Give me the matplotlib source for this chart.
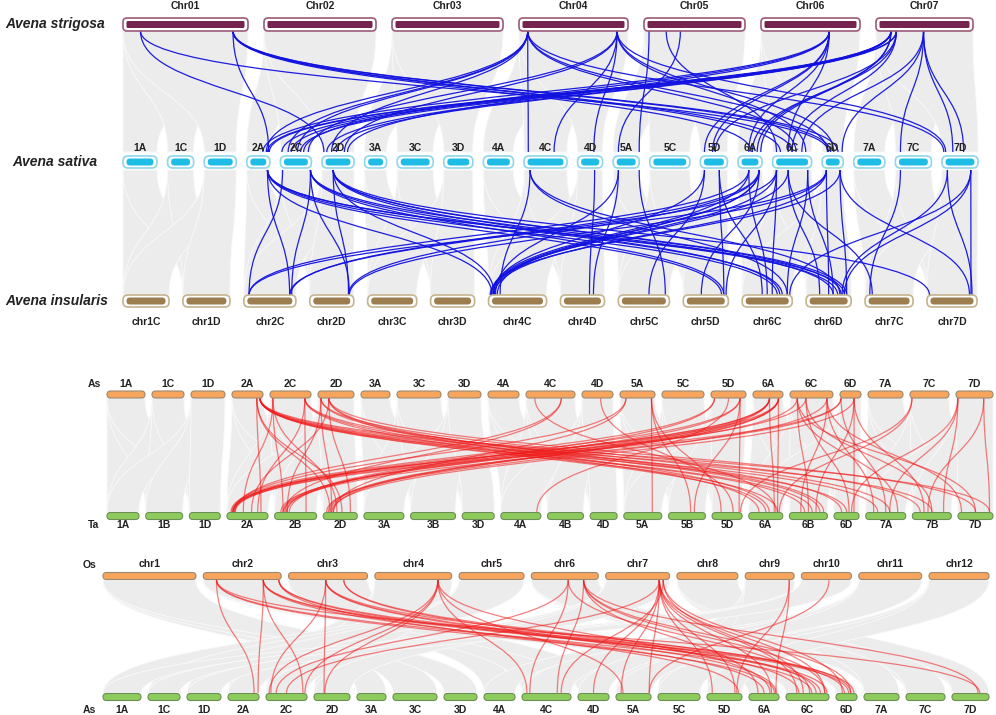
import matplotlib
matplotlib.use('Agg')
import matplotlib.pyplot as plt
from matplotlib.patches import FancyBboxPatch, PathPatch
from matplotlib.path import Path

plt.rcParams['font.family'] = ['Liberation Sans', 'DejaVu Sans']

# ---- chromosomes (names, relative lengths) ----
stri_names = ['Chr01', 'Chr02', 'Chr03', 'Chr04', 'Chr05', 'Chr06', 'Chr07']
stri_len = [125, 112, 111, 109, 101, 99, 97]

sat_names = ['1A', '1C', '1D', '2A', '2C', '2D', '3A', '3C', '3D', '4A', '4C',
             '4D', '5A', '5C', '5D', '6A', '6C', '6D', '7A', '7C', '7D']
sat_len = [34, 26, 32, 23, 31, 32, 22, 36, 29, 30, 43, 25, 26, 40, 27, 24, 39, 21, 31, 36, 36]

ins_names = ['chr1C', 'chr1D', 'chr2C', 'chr2D', 'chr3C', 'chr3D', 'chr4C',
             'chr4D', 'chr5C', 'chr5D', 'chr6C', 'chr6D', 'chr7C', 'chr7D']
ins_len = [46, 47, 52, 44, 49, 44, 58, 44, 51, 45, 50, 45, 48, 50]

as_names = sat_names
as_len = [38, 32, 34, 31, 41, 36, 29, 44, 33, 31, 49, 31, 35, 42, 35, 30, 43, 21, 35, 39, 37]

ta_names = ['1A', '1B', '1D', '2A', '2B', '2D', '3A', '3B', '3D', '4A', '4B',
            '4D', '5A', '5B', '5D', '6A', '6B', '6D', '7A', '7B', '7D']
ta_len = [32, 37, 31, 41, 42, 34, 40, 45, 32, 40, 36, 27, 38, 37, 30, 34, 38, 25, 40, 39, 35]

os_names = ['chr1', 'chr2', 'chr3', 'chr4', 'chr5', 'chr6', 'chr7', 'chr8',
            'chr9', 'chr10', 'chr11', 'chr12']
os_len = [93, 78, 79, 77, 65, 67, 64, 61, 49, 50, 63, 60]
# rice chromosome -> oat/wheat homoeologous group (for the grey background blocks)
os_group = [3, 6, 4, 2, 1, 7, 2, 7, 5, 1, 4, 5]

# ---- collinear gene pairs highlighted (source chr, rel. pos, target chr, rel. pos) ----
stri_sat_links = [
    ('Chr01', 0.14, '2D', 0.06), ('Chr01', 0.14, '6D', 0.30),
    ('Chr01', 0.88, '2A', 0.95), ('Chr01', 0.88, '6A', 0.55), ('Chr01', 0.88, '6C', 0.20),
    ('Chr01', 0.88, '6C', 0.50), ('Chr01', 0.88, '6D', 0.40), ('Chr01', 0.88, '6D', 0.75),
    ('Chr04', 0.08, '2A', 0.85), ('Chr04', 0.08, '2C', 0.25), ('Chr04', 0.08, '2C', 0.55),
    ('Chr04', 0.08, '2D', 0.30), ('Chr04', 0.08, '4C', 0.10), ('Chr04', 0.08, '6C', 0.60),
    ('Chr04', 0.08, '6D', 0.25), ('Chr04', 0.08, '7D', 0.05),
    ('Chr04', 0.90, '4C', 0.70), ('Chr04', 0.90, '4D', 0.65), ('Chr04', 0.90, '2C', 0.90),
    ('Chr04', 0.90, '2D', 0.70), ('Chr04', 0.90, '6C', 0.85), ('Chr04', 0.90, '6D', 0.55),
    ('Chr04', 0.90, '7D', 0.10),
    ('Chr05', 0.05, '5A', 1.00), ('Chr05', 0.22, '6C', 0.10), ('Chr05', 0.36, '5A', 0.20),
    ('Chr06', 0.69, '5D', 0.15), ('Chr06', 0.69, '5D', 0.45), ('Chr06', 0.69, '6A', 0.45),
    ('Chr06', 0.69, '6C', 0.40), ('Chr06', 0.69, '2A', 0.70), ('Chr06', 0.69, '2C', 0.75),
    ('Chr06', 0.69, '2D', 0.80),
    ('Chr07', 0.155, '2A', 0.90), ('Chr07', 0.155, '2C', 0.05), ('Chr07', 0.155, '2C', 0.35),
    ('Chr07', 0.155, '2D', 0.15), ('Chr07', 0.155, '2D', 0.45), ('Chr07', 0.155, '6A', 0.80),
    ('Chr07', 0.155, '6A', 0.95),
    ('Chr07', 0.21, '2A', 0.98), ('Chr07', 0.21, '2C', 0.65), ('Chr07', 0.21, '5D', 0.55),
    ('Chr07', 0.21, '6A', 0.60), ('Chr07', 0.21, '6C', 0.50),
    ('Chr07', 0.49, '6D', 0.95), ('Chr07', 0.49, '7C', 0.14), ('Chr07', 0.49, '7D', 0.30),
    ('Chr07', 0.49, '6C', 0.75), ('Chr07', 0.49, '7D', 0.60),
]

sat_ins_links = [
    ('2A', 0.90, 'chr2C', 0.88), ('2A', 0.90, 'chr4C', 0.06), ('2A', 0.90, 'chr5D', 0.85),
    ('2A', 0.90, 'chr6C', 0.70), ('2A', 0.90, 'chr6D', 0.70), ('2A', 0.90, 'chr6D', 0.85),
    ('2C', 0.07, 'chr2C', 0.10),
    ('2C', 0.97, 'chr2C', 0.92), ('2C', 0.97, 'chr2D', 0.90), ('2C', 0.97, 'chr6C', 0.80),
    ('2C', 0.97, 'chr6D', 0.60), ('2C', 0.97, 'chr5D', 0.90),
    ('2D', 0.35, 'chr2D', 0.88), ('2D', 0.35, 'chr4C', 0.10), ('2D', 0.35, 'chr6C', 0.75),
    ('2D', 0.35, 'chr6D', 0.78), ('2D', 0.35, 'chr6D', 0.90), ('2D', 0.35, 'chr7D', 0.05),
    ('4C', 0.14, 'chr4C', 0.20), ('4C', 0.14, 'chr6C', 0.90), ('4C', 0.14, 'chr6D', 0.75),
    ('4D', 0.68, 'chr4D', 0.66),
    ('5A', 0.20, 'chr4C', 0.12), ('5A', 0.20, 'chr4D', 0.75), ('5A', 1.00, 'chr5C', 0.92),
    ('5D', 0.15, 'chr4C', 0.08), ('5D', 0.15, 'chr5C', 0.60),
    ('5D', 0.70, 'chr5D', 0.90), ('5D', 0.70, 'chr6C', 0.40),
    ('6A', 0.45, 'chr4C', 0.05), ('6A', 0.45, 'chr2C', 0.10), ('6A', 0.45, 'chr6C', 0.50),
    ('6A', 0.88, 'chr4C', 0.08), ('6A', 0.88, 'chr2C', 0.90), ('6A', 0.88, 'chr2D', 0.88),
    ('6A', 0.88, 'chr4C', 0.15), ('6A', 0.88, 'chr5D', 0.40),
    ('6C', 0.10, 'chr6C', 0.60), ('6C', 0.10, 'chr5D', 0.95), ('6C', 0.10, 'chr4C', 0.10),
    ('6C', 0.10, 'chr2C', 0.88),
    ('6C', 0.40, 'chr6D', 0.30), ('6C', 0.40, 'chr7C', 0.15), ('6C', 0.40, 'chr4C', 0.05),
    ('6C', 0.90, 'chr6D', 0.60), ('6C', 0.90, 'chr6C', 0.90),
    ('6D', 0.20, 'chr6D', 0.50), ('6D', 0.20, 'chr4C', 0.10), ('6D', 0.20, 'chr2D', 0.90),
    ('6D', 0.20, 'chr2C', 0.10),
    ('6D', 0.85, 'chr6D', 0.90), ('6D', 0.85, 'chr7D', 0.85), ('6D', 0.85, 'chr4C', 0.03),
    ('7C', 0.14, 'chr7C', 0.10),
    ('7D', 0.15, 'chr7D', 0.90), ('7D', 0.15, 'chr6D', 0.80),
    ('7D', 0.80, 'chr7D', 0.88), ('7D', 0.80, 'chr6C', 0.95), ('7D', 0.80, 'chr6D', 0.85),
]

as_ta_links = [
    ('2A', 0.80, '2A', 0.83), ('2A', 0.80, '2D', 0.20), ('2A', 0.80, '2D', 0.55),
    ('2A', 0.90, '6A', 0.50), ('2A', 0.90, '6B', 0.40), ('2A', 0.90, '6B', 0.60),
    ('2A', 0.90, '6D', 0.50), ('2A', 0.90, '7A', 0.30), ('2A', 0.90, '7B', 0.50),
    ('2A', 0.90, '7D', 0.90), ('2A', 0.90, '6A', 0.85),
    ('2C', 0.07, '2B', 0.20), ('2C', 0.07, '2A', 0.40), ('2C', 0.07, '2D', 0.40),
    ('2C', 0.85, '2B', 0.75), ('2C', 0.85, '2A', 0.75), ('2C', 0.85, '6A', 0.30),
    ('2C', 0.85, '6B', 0.80), ('2C', 0.85, '7A', 0.60),
    ('2D', 0.08, '2B', 0.30), ('2D', 0.08, '2D', 0.25), ('2D', 0.08, '6D', 0.30),
    ('2D', 0.08, '7B', 0.20),
    ('2D', 0.30, '2A', 0.60), ('2D', 0.30, '2D', 0.80), ('2D', 0.30, '6A', 0.60),
    ('2D', 0.30, '7D', 0.50), ('2D', 0.30, '6B', 0.90),
    ('4C', 0.18, '6A', 0.80), ('4C', 0.72, '2A', 0.20), ('4C', 0.72, '2B', 0.25),
    ('4D', 0.60, '5D', 0.70),
    ('5A', 0.17, '2A', 0.15), ('5A', 0.17, '2D', 0.30),
    ('5A', 0.90, '5A', 0.75), ('5A', 0.90, '5B', 0.60), ('5A', 0.90, '5D', 0.30),
    ('5D', 0.10, '2A', 0.10), ('5D', 0.10, '2B', 0.30), ('5D', 0.50, '4A', 0.90),
    ('5D', 0.83, '2A', 0.15), ('5D', 0.83, '2B', 0.35), ('5D', 0.83, '5B', 0.70),
    ('5D', 0.83, '5D', 0.90),
    ('6A', 0.55, '2A', 0.12), ('6A', 0.55, '2A', 0.18), ('6A', 0.55, '2B', 0.20),
    ('6A', 0.55, '2D', 0.15), ('6A', 0.55, '6A', 0.75),
    ('6A', 0.85, '2A', 0.14), ('6A', 0.85, '2B', 0.28), ('6A', 0.85, '2D', 0.20),
    ('6A', 0.85, '2D', 0.30), ('6A', 0.85, '6A', 0.85),
    ('6C', 0.17, '6B', 0.50), ('6C', 0.17, '7A', 0.80), ('6C', 0.17, '7D', 0.50),
    ('6C', 0.17, '2B', 0.15),
    ('6C', 0.37, '6D', 0.60), ('6C', 0.37, '7B', 0.50), ('6C', 0.37, '2A', 0.20),
    ('6C', 0.86, '6B', 0.30), ('6C', 0.86, '7A', 0.20), ('6C', 0.86, '7D', 0.10),
    ('6C', 0.86, '2D', 0.10),
    ('6D', 0.05, '2A', 0.16), ('6D', 0.05, '2B', 0.22), ('6D', 0.05, '7A', 0.50),
    ('6D', 0.67, '6D', 0.80), ('6D', 0.67, '6B', 0.70), ('6D', 0.67, '7B', 0.30),
    ('6D', 0.67, '2D', 0.25),
    ('7C', 0.05, '6A', 0.90), ('7C', 0.05, '5D', 0.95),
    ('7D', 0.05, '7A', 0.60), ('7D', 0.05, '7B', 0.80), ('7D', 0.05, '6D', 0.70),
    ('7D', 0.75, '7D', 0.90), ('7D', 0.75, '7B', 0.40),
]

os_as_links = [
    ('chr2', 0.17, '2A', 0.84), ('chr2', 0.17, '6A', 0.85), ('chr2', 0.17, '6C', 0.60),
    ('chr2', 0.17, '7D', 0.75),
    ('chr2', 0.77, '2A', 0.97), ('chr2', 0.77, '2C', 0.90), ('chr2', 0.77, '6C', 0.95),
    ('chr2', 0.77, '6D', 0.60), ('chr2', 0.77, '6A', 0.50),
    ('chr2', 0.97, '6C', 0.80), ('chr2', 0.97, '6D', 0.85), ('chr2', 0.97, '5D', 0.90),
    ('chr3', 0.47, '2D', 0.28), ('chr3', 0.47, '2C', 0.12), ('chr3', 0.47, '6C', 0.30),
    ('chr3', 0.47, '6D', 0.70), ('chr3', 0.47, '6A', 0.90),
    ('chr3', 0.70, '6C', 0.70), ('chr3', 0.70, '6D', 0.40),
    ('chr4', 0.82, '2C', 0.08), ('chr4', 0.82, '2C', 0.95), ('chr4', 0.82, '2D', 0.30),
    ('chr4', 0.82, '4C', 0.10), ('chr4', 0.82, '5A', 0.20), ('chr4', 0.82, '6A', 0.70),
    ('chr6', 0.55, '4C', 0.16), ('chr6', 0.55, '2C', 0.25), ('chr6', 0.55, '6C', 0.55),
    ('chr6', 0.78, '4C', 0.72), ('chr6', 0.78, '6D', 0.70), ('chr6', 0.78, '7D', 0.70),
    ('chr6', 0.78, '6C', 0.90), ('chr6', 0.78, '6A', 0.30),
    ('chr7', 0.84, '4D', 0.50), ('chr7', 0.84, '5A', 0.15), ('chr7', 0.84, '5A', 0.95),
    ('chr7', 0.84, '5D', 0.15), ('chr7', 0.84, '5D', 0.80), ('chr7', 0.84, '6A', 0.75),
    ('chr7', 0.84, '6C', 0.25), ('chr7', 0.84, '6C', 0.90), ('chr7', 0.84, '2C', 0.50),
    ('chr7', 0.90, '4C', 0.80), ('chr7', 0.90, '6C', 0.40), ('chr7', 0.90, '6D', 0.30),
    ('chr9', 0.90, '6A', 0.90), ('chr9', 0.90, '5D', 0.85),
    ('chr10', 0.55, '5A', 0.95),
]


def layout(names, lens, x0, x1, gap):
    scale = (x1 - x0 - gap * (len(names) - 1)) / sum(lens)
    pos = {}
    x = x0
    for n, l in zip(names, lens):
        pos[n] = (x, l * scale)
        x += l * scale + gap
    return pos


def curve(ax, xa, ya, xb, yb, color, lw, alpha, z=2):
    ym = (ya + yb) / 2
    p = Path([(xa, ya), (xa, ym), (xb, ym), (xb, yb)],
             [Path.MOVETO, Path.CURVE4, Path.CURVE4, Path.CURVE4])
    ax.add_patch(PathPatch(p, fc='none', ec=color, lw=lw, alpha=alpha, zorder=z))


def ribbon(ax, a, ya, b, yb):
    xa0, xa1 = a[0], a[0] + a[1]
    xb0, xb1 = b[0], b[0] + b[1]
    ym = (ya + yb) / 2
    verts = [(xa0, ya), (xa1, ya), (xa1, ym), (xb1, ym), (xb1, yb), (xb0, yb),
             (xb0, ym), (xa0, ym), (xa0, ya), (xa0, ya)]
    codes = [Path.MOVETO, Path.LINETO, Path.CURVE4, Path.CURVE4, Path.CURVE4,
             Path.LINETO, Path.CURVE4, Path.CURVE4, Path.CURVE4, Path.CLOSEPOLY]
    ax.add_patch(PathPatch(Path(verts, codes), fc='#ececec', ec='#fafafa', lw=0.6, zorder=1))


def draw_links(ax, links, top, ya, bot, yb, color, lw, alpha):
    for s, fs, t, ft in links:
        xa = top[s][0] + fs * top[s][1]
        xb = bot[t][0] + ft * bot[t][1]
        curve(ax, xa, ya, xb, yb, color, lw, alpha)


def boxed_track(ax, pos, yc, h, edge, fill, inner_h, rs_out, rs_in):
    for n, (x, w) in pos.items():
        ax.add_patch(FancyBboxPatch((x, yc - h / 2), w, h,
                                    boxstyle=f"round,pad=0,rounding_size={rs_out}",
                                    fc='white', ec=edge, lw=1.2, zorder=3))
        ax.add_patch(FancyBboxPatch((x + 3.5, yc - inner_h / 2), w - 7, inner_h,
                                    boxstyle=f"round,pad=0,rounding_size={rs_in}",
                                    fc=fill, ec='none', zorder=4))


def pill_track(ax, pos, yc, h, fill, edge):
    for n, (x, w) in pos.items():
        ax.add_patch(FancyBboxPatch((x, yc - h / 2), w, h,
                                    boxstyle=f"round,pad=0,rounding_size={h / 2}",
                                    fc=fill, ec=edge, lw=0.8, zorder=3))


def labels(ax, pos, y, size=7.5):
    for n, (x, w) in pos.items():
        ax.text(x + w / 2, y, n, ha='center', va='center', fontsize=size,
                fontweight='bold', color='#222222', zorder=5)


fig = plt.figure(figsize=(9.96, 7.15), dpi=100)
ax = fig.add_axes([0, 0, 1, 1])
ax.set_xlim(0, 996)
ax.set_ylim(715, 0)
ax.axis('off')

# ---------- panel 1: A. strigosa / A. sativa / A. insularis ----------
stri = layout(stri_names, stri_len, 123, 973, 16)
sat = layout(sat_names, sat_len, 123, 978, 10.6)
ins = layout(ins_names, ins_len, 123, 977, 13.9)

for k in range(7):
    g = str(k + 1)
    for sub in 'ACD':
        ribbon(ax, stri[stri_names[k]], 31, sat[g + sub], 152)
        for isub in 'CD':
            ribbon(ax, sat[g + sub], 170, ins['chr' + g + isub], 295)

draw_links(ax, stri_sat_links, stri, 31, sat, 152, '#1212e0', 0.9, 0.95)
draw_links(ax, sat_ins_links, sat, 170, ins, 295, '#1212e0', 0.9, 0.95)

boxed_track(ax, stri, 24.5, 13, '#9c5a78', '#74244f', 7, 4, 1.5)
boxed_track(ax, sat, 162, 12, '#8fd6ea', '#1ebde6', 7, 5, 3.5)
boxed_track(ax, ins, 301, 12, '#c4b38e', '#9b7d4f', 7, 5, 3.5)

labels(ax, stri, 6)
labels(ax, sat, 148)
labels(ax, ins, 322)

ax.text(5, 24, 'Avena strigosa', fontsize=10, fontweight='bold', fontstyle='italic',
        ha='left', va='center', color='#222222')
ax.text(12, 162, 'Avena sativa', fontsize=10, fontweight='bold', fontstyle='italic',
        ha='left', va='center', color='#222222')
ax.text(5, 301, 'Avena insularis', fontsize=10, fontweight='bold', fontstyle='italic',
        ha='left', va='center', color='#222222')

# ---------- panel 2: As vs Ta ----------
as2 = layout(as_names, as_len, 107, 993, 7)
ta = layout(ta_names, ta_len, 107, 993, 6.65)

for k in range(7):
    g = str(k + 1)
    for sub in 'ACD':
        for tsub in 'ABD':
            ribbon(ax, as2[g + sub], 398, ta[g + tsub], 512)

draw_links(ax, as_ta_links, as2, 398, ta, 512, '#f01818', 0.9, 0.55)

pill_track(ax, as2, 394.5, 7, '#f7a55c', '#9a8a72')
pill_track(ax, ta, 516, 7, '#8dcb5d', '#6d8f56')
labels(ax, as2, 384)
labels(ax, ta, 525)
ax.text(88, 384, 'As', fontsize=7.5, fontweight='bold', ha='left', va='center', color='#222222')
ax.text(88, 525, 'Ta', fontsize=7.5, fontweight='bold', ha='left', va='center', color='#222222')

# ---------- panel 3: Os vs As ----------
osp = layout(os_names, os_len, 103, 989, 7.3)
as3 = layout(as_names, as_len, 103, 989, 7)

for k, grp in enumerate(os_group):
    for sub in 'ACD':
        ribbon(ax, osp[os_names[k]], 580, as3[str(grp) + sub], 693)

draw_links(ax, os_as_links, osp, 580, as3, 693, '#f01818', 0.9, 0.55)

pill_track(ax, osp, 576, 7, '#f7a55c', '#9a8a72')
pill_track(ax, as3, 697, 7, '#8dcb5d', '#6d8f56')
labels(ax, osp, 564)
labels(ax, as3, 710)
ax.text(83, 565, 'Os', fontsize=7.5, fontweight='bold', ha='left', va='center', color='#222222')
ax.text(83, 710, 'As', fontsize=7.5, fontweight='bold', ha='left', va='center', color='#222222')

fig.savefig('out.png', dpi=100)
